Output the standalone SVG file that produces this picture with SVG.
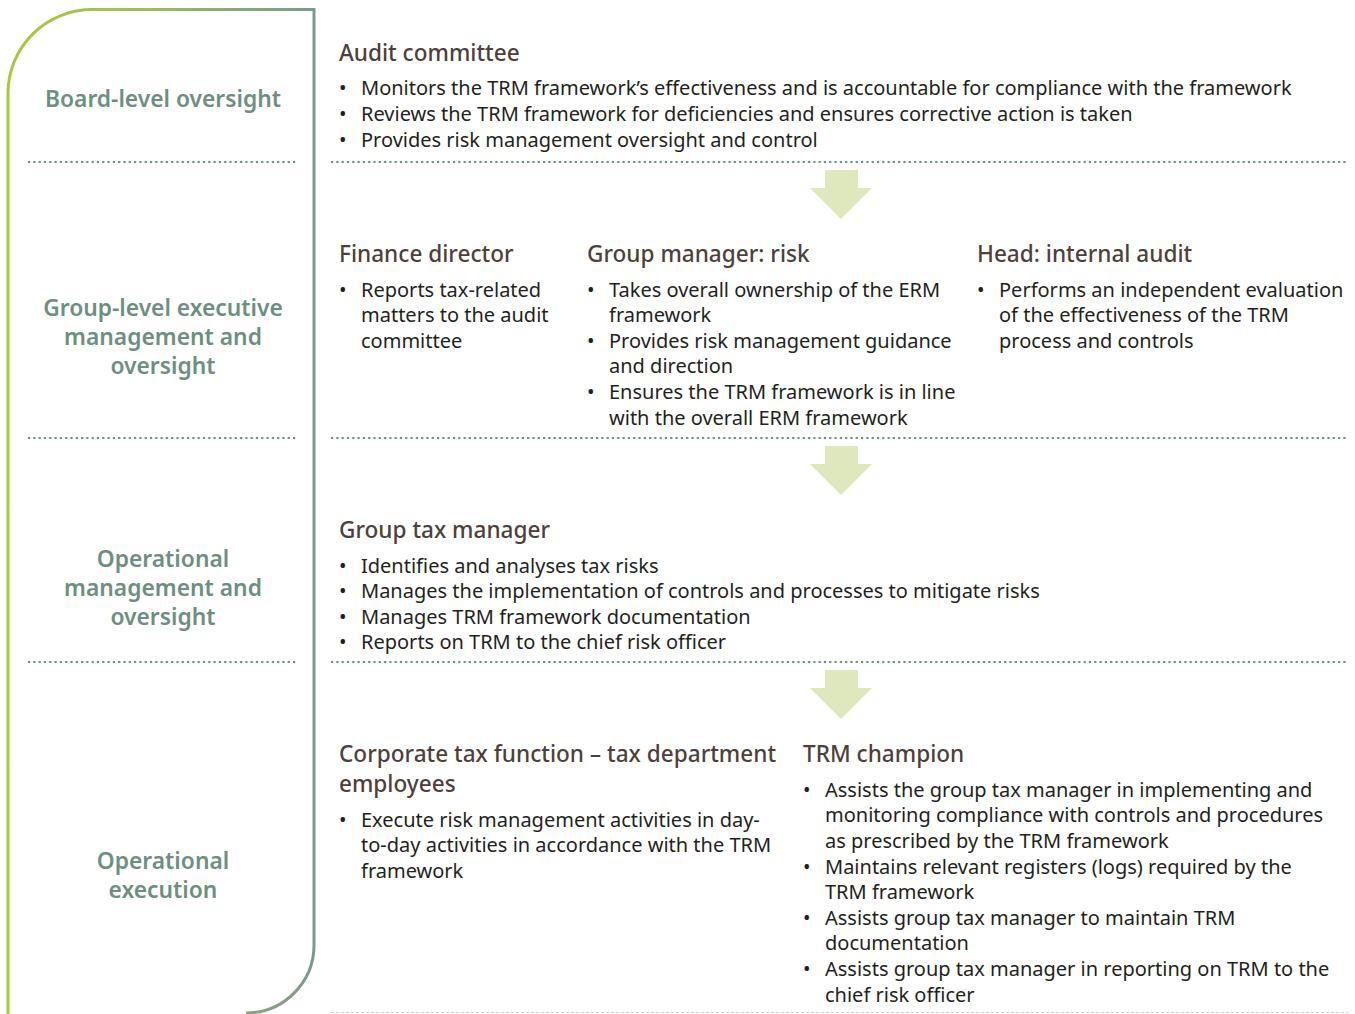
<svg xmlns="http://www.w3.org/2000/svg" width="1355" height="1014" viewBox="0 0 1355 1014">
<defs>
<linearGradient id="fg" gradientUnits="userSpaceOnUse" x1="8" y1="0" x2="314" y2="0">
<stop offset="0" stop-color="#a9c83a"/>
<stop offset="0.35" stop-color="#a3c15a"/>
<stop offset="1" stop-color="#7b998b"/>
</linearGradient>
<style>
.lbl{font-family:"Noto Sans","Liberation Sans",sans-serif;font-size:22.8px;font-weight:600;fill:#6d8f80;text-anchor:middle}
.hd{font-family:"Noto Sans","Liberation Sans",sans-serif;font-size:22.6px;font-weight:500;fill:#4e3f3b}
.tx{font-family:"Noto Sans","Liberation Sans",sans-serif;font-size:20px;fill:#231f20}
.dot{stroke:#6d8f80;stroke-width:2.2;stroke-dasharray:2.2 3.1;fill:none}
.arr{fill:#dfe8bd}
</style>
</defs>
<rect width="1355" height="1014" fill="#fff"/>
<path d="M8 1016 V92 A84 84 0 0 1 92 9.5 H314 V945 A68 68 0 0 1 246 1013" fill="none" stroke="url(#fg)" stroke-width="3"/>
<g id="connectors">
<line class="dot" x1="28" y1="162" x2="297" y2="162"/>
<line class="dot" x1="331" y1="162" x2="1348" y2="162"/>
<line class="dot" x1="28" y1="438" x2="297" y2="438"/>
<line class="dot" x1="331" y1="438" x2="1348" y2="438"/>
<line class="dot" x1="28" y1="662" x2="297" y2="662"/>
<line class="dot" x1="331" y1="662" x2="1348" y2="662"/>
<line x1="331" y1="1012.5" x2="1348" y2="1012.5" stroke="#d0d0d0" stroke-width="1" stroke-dasharray="3 2"/>
<polygon class="arr" points="825,170 858,170 858,188 872,188 841,219 810,188 825,188"/>
<polygon class="arr" points="825,446 858,446 858,464 872,464 841,495 810,464 825,464"/>
<polygon class="arr" points="825,670 858,670 858,688 872,688 841,719 810,688 825,688"/>
</g>
<g id="label-board"><text class="lbl" x="163" y="107">Board-level oversight</text></g>
<g id="label-group"><text class="lbl" x="163" y="316">Group-level executive</text><text class="lbl" x="163" y="345">management and</text><text class="lbl" x="163" y="374">oversight</text></g>
<g id="label-opmgmt"><text class="lbl" x="163" y="567">Operational</text><text class="lbl" x="163" y="596">management and</text><text class="lbl" x="163" y="625">oversight</text></g>
<g id="label-opexec"><text class="lbl" x="163" y="869">Operational</text><text class="lbl" x="163" y="898">execution</text></g>

<g id="audit-committee">
<text class="hd" x="339" y="61">Audit committee</text>
<text class="tx" x="339" y="95">•</text><text class="tx" x="361" y="95">Monitors the TRM framework’s effectiveness and is accountable for compliance with the framework</text>
<text class="tx" x="339" y="121">•</text><text class="tx" x="361" y="121">Reviews the TRM framework for deficiencies and ensures corrective action is taken</text>
<text class="tx" x="339" y="147">•</text><text class="tx" x="361" y="147">Provides risk management oversight and control</text>
</g>

<g id="finance-director">
<text class="hd" x="339" y="262">Finance director</text>
<text class="tx" x="339" y="297">•</text><text class="tx" x="361" y="297">Reports tax-related</text>
<text class="tx" x="361" y="322">matters to the audit</text>
<text class="tx" x="361" y="348">committee</text>
</g>

<g id="group-manager-risk">
<text class="hd" x="587" y="262">Group manager: risk</text>
<text class="tx" x="587" y="297">•</text><text class="tx" x="609" y="297">Takes overall ownership of the ERM</text>
<text class="tx" x="609" y="322">framework</text>
<text class="tx" x="587" y="348">•</text><text class="tx" x="609" y="348">Provides risk management guidance</text>
<text class="tx" x="609" y="373">and direction</text>
<text class="tx" x="587" y="399">•</text><text class="tx" x="609" y="399">Ensures the TRM framework is in line</text>
<text class="tx" x="609" y="425">with the overall ERM framework</text>
</g>

<g id="head-internal-audit">
<text class="hd" x="977" y="262">Head: internal audit</text>
<text class="tx" x="977" y="297">•</text><text class="tx" x="999" y="297">Performs an independent evaluation</text>
<text class="tx" x="999" y="322">of the effectiveness of the TRM</text>
<text class="tx" x="999" y="348">process and controls</text>
</g>

<g id="group-tax-manager">
<text class="hd" x="339" y="538">Group tax manager</text>
<text class="tx" x="339" y="573">•</text><text class="tx" x="361" y="573">Identifies and analyses tax risks</text>
<text class="tx" x="339" y="598">•</text><text class="tx" x="361" y="598">Manages the implementation of controls and processes to mitigate risks</text>
<text class="tx" x="339" y="624">•</text><text class="tx" x="361" y="624">Manages TRM framework documentation</text>
<text class="tx" x="339" y="649">•</text><text class="tx" x="361" y="649">Reports on TRM to the chief risk officer</text>
</g>

<g id="corporate-tax-function">
<text class="hd" x="339" y="762">Corporate tax function – tax department</text>
<text class="hd" x="339" y="792">employees</text>
<text class="tx" x="339" y="827">•</text><text class="tx" x="361" y="827">Execute risk management activities in day-</text>
<text class="tx" x="361" y="852">to-day activities in accordance with the TRM</text>
<text class="tx" x="361" y="878">framework</text>
</g>

<g id="trm-champion">
<text class="hd" x="803" y="762">TRM champion</text>
<text class="tx" x="803" y="797">•</text><text class="tx" x="825" y="797">Assists the group tax manager in implementing and</text>
<text class="tx" x="825" y="822">monitoring compliance with controls and procedures</text>
<text class="tx" x="825" y="848">as prescribed by the TRM framework</text>
<text class="tx" x="803" y="874">•</text><text class="tx" x="825" y="874">Maintains relevant registers (logs) required by the</text>
<text class="tx" x="825" y="899">TRM framework</text>
<text class="tx" x="803" y="925">•</text><text class="tx" x="825" y="925">Assists group tax manager to maintain TRM</text>
<text class="tx" x="825" y="950">documentation</text>
<text class="tx" x="803" y="976">•</text><text class="tx" x="825" y="976">Assists group tax manager in reporting on TRM to the</text>
<text class="tx" x="825" y="1002">chief risk officer</text>
</g>
</svg>
